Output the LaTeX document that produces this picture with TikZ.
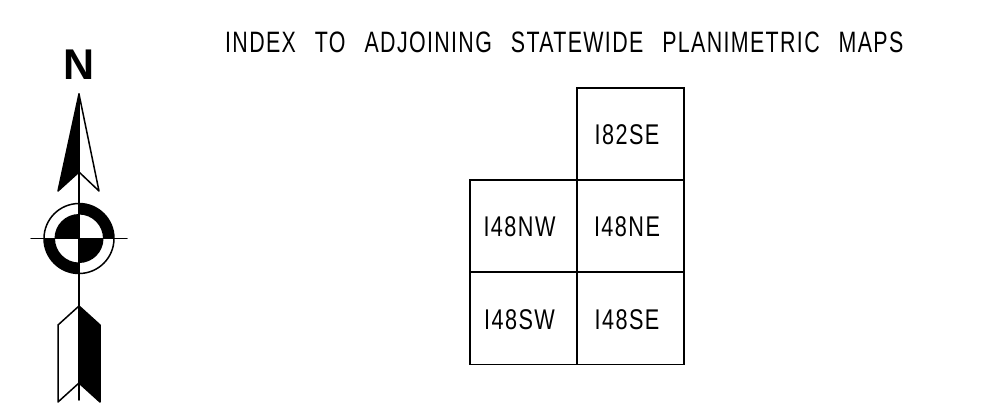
\documentclass[tikz,border=0pt]{standalone}
\usepackage{fontspec}
\newfontfamily\cadfont[FakeStretch=0.725,LetterSpace=4.6,WordSpace=2.6]{Liberation Sans}
\newfontfamily\cadlabel[FakeStretch=0.76,LetterSpace=5]{Liberation Sans}
\newfontfamily\cadbold{Liberation Sans Bold}
\tikzset{
  ink/.style={line width=1.5pt,line join=round,line cap=round},
  cell/.style={draw=black,line width=1.6pt,minimum width=107pt,minimum height=92pt,inner sep=0pt,font=\cadlabel\fontsize{28.5}{28.5}\selectfont},
  celltext/.style={anchor=center,inner sep=0pt,font=\cadlabel\fontsize{28.5}{28.5}\selectfont},
  titletext/.style={anchor=base west,inner sep=0pt,font=\cadfont\fontsize{29.5}{29.5}\selectfont},
  northtext/.style={anchor=base,inner sep=0pt,font=\cadbold\fontsize{43}{43}\selectfont}
}
\begin{document}
\begin{tikzpicture}[x=1pt,y=-1pt]
\useasboundingbox (0,0) rectangle (990,408);
\node[titletext] (title) at (225,52) {INDEX TO ADJOINING STATEWIDE PLANIMETRIC MAPS};
\node[northtext] (north) at (79.5,79) {N};
% index grid
\node[cell] (a) at (630.3,134) {};
\node[cell] (b) at (523.3,226.2) {};
\node[cell] (c) at (630.3,226.2) {};
\node[cell] (d) at (523.3,318.4) {};
\node[cell] (e) at (630.3,318.4) {};
\node[celltext] (ta) at (627,135) {I82SE};
\node[celltext] (tb) at (519.5,226.5) {I48NW};
\node[celltext] (tc) at (627,226.5) {I48NE};
\node[celltext] (td) at (519.5,319.5) {I48SW};
\node[celltext] (te) at (627,319.5) {I48SE};
% north arrow
\coordinate (o) at (79,238.5);
\fill[black] (o) -- ++(-24.5,0) arc[start angle=180,end angle=90,radius=24.5pt] -- cycle;
\fill[black] (o) -- ++(24.5,0) arc[start angle=0,end angle=-90,radius=24.5pt] -- cycle;
\fill[black] (79,203.5) arc[start angle=90,end angle=0,radius=35pt] -- (103,238.5) arc[start angle=0,end angle=90,radius=24pt] -- cycle;
\fill[black] (79,273.5) arc[start angle=-90,end angle=-180,radius=35pt] -- (55,238.5) arc[start angle=180,end angle=270,radius=24pt] -- cycle;
\draw[ink] (o) circle[radius=35pt];
\draw[ink] (31,238.5) -- (127,238.5);
\draw[ink] (79,94) -- (79,400);
% top arrowhead
\fill[black] (79,94) -- (58,191) -- (79,172) -- cycle;
\draw[ink] (79,94) -- (58,191) -- (79,172) -- (99,191) -- cycle;
% bottom feather
\fill[black] (79,306) -- (100,325) -- (100,402) -- (79,383) -- cycle;
\draw[ink] (79,306) -- (58,325) -- (58,402) -- (79,383) -- (100,402) -- (100,325) -- cycle;
\end{tikzpicture}
\end{document}
